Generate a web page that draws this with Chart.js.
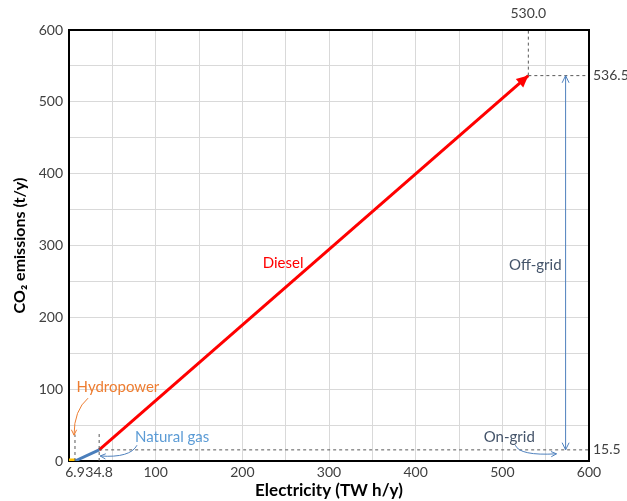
<!DOCTYPE html>
<html>
<head>
<meta charset="utf-8">
<script src="https://cdn.jsdelivr.net/npm/chart.js@4"></script>
<style>
  html, body { margin: 0; padding: 0; background: #fff; }
  #wrap { width: 627px; height: 501px; }
</style>
</head>
<body>
<div id="wrap"><canvas id="chartCO2"></canvas></div>
<script>
// values
const hydroX = [0, 6.9];
const hydroY = [0, 0];
const gasX = [6.9, 34.8];
const gasY = [0, 15.5];
const dieselX = [34.8, 530];
const dieselY = [15.5, 536.5];

// dashed guide lines [x1, y1, x2, y2]
const guides = [
    [6.9, 0, 6.9, 37],
    [34.8, 0, 34.8, 40],
    [34.8, 15.5, 600, 15.5],
    [530, 536.5, 530, 600],
    [530, 536.5, 600, 536.5]
];

// off-grid span
const offGridX = [573, 573];
const offGridY = [15.5, 536.5];

const xTicks = [0, 6.9, 34.8, 50, 100, 150, 200, 250, 300, 350, 400, 450, 500, 550, 600];
const xTickLabels = [6.9, 34.8, 100, 200, 300, 400, 500, 600];
const yTickLabels = [0, 100, 200, 300, 400, 500, 600];

// text labels [text, x, y, colour]
const labels = [
    ['Hydropower', 56.5, 103, '#ED7D31'],
    ['Natural gas', 119, 33, '#5B9BD5'],
    ['On-grid', 508, 33, '#44546A'],
    ['Off-grid', 538, 272, '#44546A'],
    ['Diesel', 247, 275, '#FF0000']
];

// curved arrows [x0, y0, cx, cy, x1, y1, colour]
const curves = [
    [22, 87.5, 5.8, 71, 5.8, 36, '#ED7D31'],
    [78.5, 22, 70.5, 4, 36, 7, '#4F81BD'],
    [515, 22, 520, 7, 562.5, 10, '#4F81BD']
];

function pts(xs, ys) {
    return xs.map((x, i) => ({x: x, y: ys[i]}));
}

function arrowHead(ctx, x0, y0, x1, y1, size, filled, color) {
    const a = Math.atan2(y1 - y0, x1 - x0);
    ctx.save();
    ctx.strokeStyle = color;
    ctx.fillStyle = color;
    ctx.lineWidth = 1;
    ctx.beginPath();
    ctx.moveTo(x1 - size * Math.cos(a - 0.45), y1 - size * Math.sin(a - 0.45));
    ctx.lineTo(x1, y1);
    ctx.lineTo(x1 - size * Math.cos(a + 0.45), y1 - size * Math.sin(a + 0.45));
    if (filled) {
        ctx.closePath();
        ctx.fill();
    } else {
        ctx.stroke();
    }
    ctx.restore();
}

const extras = {
    id: 'extras',
    afterDatasetsDraw(chart) {
        const ctx = chart.ctx;
        const xs = chart.scales.x;
        const ys = chart.scales.y;
        const area = chart.chartArea;
        const px = v => xs.getPixelForValue(v);
        const py = v => ys.getPixelForValue(v);

        // frame top and right
        ctx.save();
        ctx.strokeStyle = '#000';
        ctx.lineWidth = 2;
        ctx.beginPath();
        ctx.moveTo(area.left, area.top);
        ctx.lineTo(area.right, area.top);
        ctx.lineTo(area.right, area.bottom);
        ctx.stroke();
        ctx.restore();

        // diesel arrow head
        arrowHead(ctx, px(dieselX[0]), py(dieselY[0]), px(dieselX[1]), py(dieselY[1]), 13, true, '#FF0000');

        // off-grid arrow heads
        arrowHead(ctx, px(offGridX[0]), py(offGridY[0]), px(offGridX[1]), py(offGridY[1]), 8, false, '#4F81BD');
        arrowHead(ctx, px(offGridX[1]), py(offGridY[1]), px(offGridX[0]), py(offGridY[0]), 8, false, '#4F81BD');

        // curved arrows
        curves.forEach(c => {
            ctx.save();
            ctx.strokeStyle = c[6];
            ctx.lineWidth = 1;
            ctx.beginPath();
            ctx.moveTo(px(c[0]), py(c[1]));
            ctx.quadraticCurveTo(px(c[2]), py(c[3]), px(c[4]), py(c[5]));
            ctx.stroke();
            ctx.restore();
            arrowHead(ctx, px(c[2]), py(c[3]), px(c[4]), py(c[5]), 6, false, c[6]);
        });

        // labels
        ctx.save();
        ctx.font = '15px Lato';
        ctx.textAlign = 'center';
        ctx.textBaseline = 'middle';
        labels.forEach(l => {
            ctx.fillStyle = l[3];
            ctx.fillText(l[0], px(l[1]), py(l[2]));
        });

        // value labels
        ctx.fillStyle = '#404040';
        ctx.font = '14px Lato';
        ctx.fillText('530.0', px(530), area.top - 17);
        ctx.textAlign = 'left';
        ctx.fillText('536.5', area.right + 4, py(536.5));
        ctx.fillText('15.5', area.right + 4, py(15.5));
        ctx.restore();
    }
};

const guideSets = guides.map(g => ({
    data: [{x: g[0], y: g[1]}, {x: g[2], y: g[3]}],
    borderColor: '#595959',
    borderWidth: 1,
    borderDash: [3, 3],
    pointRadius: 0,
    showLine: true
}));

const ctx = document.getElementById('chartCO2').getContext('2d');
const chartCO2 = new Chart(ctx, {
    type: 'scatter',
    data: {
        datasets: [
            ...guideSets,
            {
                label: 'Off-grid',
                data: pts(offGridX, offGridY),
                borderColor: '#4F81BD',
                borderWidth: 1,
                pointRadius: 0,
                showLine: true
            },
            {
                label: 'Hydropower',
                data: pts(hydroX, hydroY),
                borderColor: '#FFC000',
                borderWidth: 5,
                pointRadius: 0,
                showLine: true
            },
            {
                label: 'Natural gas',
                data: pts(gasX, gasY),
                borderColor: '#4A7EBB',
                borderWidth: 3,
                pointRadius: 0,
                showLine: true
            },
            {
                label: 'Diesel',
                data: pts(dieselX, dieselY),
                borderColor: '#FF0000',
                borderWidth: 3,
                pointRadius: 0,
                showLine: true
            }
        ]
    },
    options: {
        responsive: true,
        maintainAspectRatio: false,
        animation: false,
        layout: {
            padding: {top: 30, right: 38, left: 0, bottom: 0}
        },
        scales: {
            x: {
                type: 'linear',
                min: 0,
                max: 600,
                afterBuildTicks: function(scale) {
                    scale.ticks = xTicks.map(v => ({value: v}));
                },
                afterFit: function(scale) {
                    scale.height = 40;
                },
                grid: {
                    color: c => (c.tick && c.tick.value % 50 === 0) ? '#D9D9D9' : 'rgba(0,0,0,0)',
                    drawTicks: false
                },
                border: {color: '#000', width: 2},
                ticks: {
                    autoSkip: false,
                    maxRotation: 0,
                    padding: 3,
                    color: '#404040',
                    font: {family: 'Lato', size: 14},
                    callback: function(value) {
                        return xTickLabels.includes(value) ? String(value) : '';
                    }
                },
                title: {
                    display: true,
                    text: 'Electricity (TW h/y)',
                    color: '#000',
                    font: {family: 'Lato', size: 17, weight: 'bold'},
                    padding: {top: 0, bottom: 0}
                }
            },
            y: {
                type: 'linear',
                min: 0,
                max: 600,
                afterFit: function(scale) {
                    scale.width = 69;
                },
                grid: {
                    color: '#D9D9D9',
                    drawTicks: false
                },
                border: {color: '#000', width: 2},
                ticks: {
                    stepSize: 50,
                    padding: 6,
                    color: '#404040',
                    font: {family: 'Lato', size: 14},
                    callback: function(value) {
                        return yTickLabels.includes(value) ? String(value) : '';
                    }
                },
                title: {
                    display: true,
                    text: 'CO₂ emissions (t/y)',
                    color: '#000',
                    font: {family: 'Lato', size: 16, weight: 'bold'},
                    padding: {top: 10, bottom: 0}
                }
            }
        },
        plugins: {
            legend: {display: false},
            tooltip: {enabled: false}
        }
    },
    plugins: [extras]
});
</script>
</body>
</html>
